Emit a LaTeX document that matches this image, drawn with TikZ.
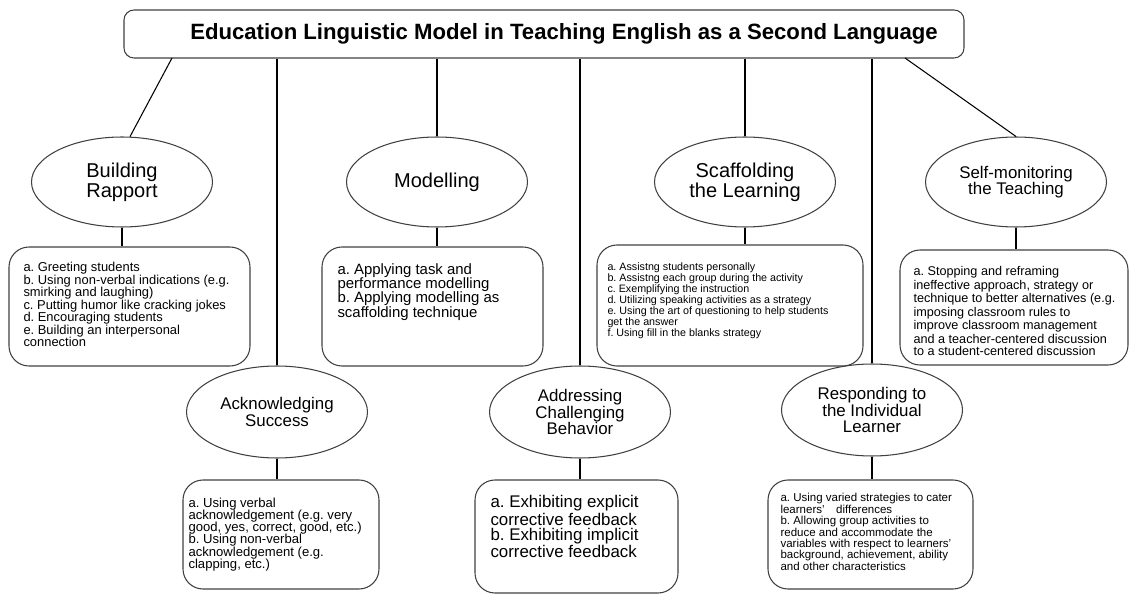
\documentclass[tikz,border=0pt]{standalone}
\usepackage{fontspec}
\setmainfont{Liberation Sans}
\usetikzlibrary{shapes.geometric,fit}
\frenchspacing
\begin{document}
\begin{tikzpicture}[x=0.02cm, y=-0.02cm, line width=0.6pt,
    topic/.style={ellipse, draw=black!75, minimum width=3.62cm, minimum height=1.8cm, align=center, inner sep=1pt},
    card/.style={draw=black!75, rounded corners=0.4cm, inner sep=0pt},
    notes/.style={anchor=north west, inner sep=0pt, align=left}]
    \useasboundingbox (0,0) rectangle (1129,594);
    % title
    \node[draw=black!75, rounded corners=0.2cm, inner sep=0pt, fit={(124,10) (964,58)}] (title) {};
    \node[font=\fontsize{12.6pt}{14pt}\selectfont\bfseries] (head) at (564,34)
        {Education Linguistic Model in Teaching English as a Second Language};
    % topics
    \node[topic, font=\fontsize{11.4pt}{11.4pt}\selectfont] (br) at (122,182) {Building\\Rapport};
    \node[topic, font=\fontsize{11.4pt}{11.4pt}\selectfont] (mo) at (437,182) {Modelling};
    \node[topic, font=\fontsize{11.4pt}{11.4pt}\selectfont] (sc) at (745,182) {Scaffolding\\the Learning};
    \node[topic, font=\fontsize{9.6pt}{9.3pt}\selectfont] (se) at (1016,182) {Self-monitoring\\the Teaching};
    \node[topic, minimum height=1.84cm, font=\fontsize{9.6pt}{9.3pt}\selectfont] (as) at (277,412) {Acknowledging\\Success};
    \node[topic, minimum height=1.84cm, font=\fontsize{9.6pt}{9.3pt}\selectfont] (ad) at (580,412) {Addressing\\Challenging\\Behavior};
    \node[topic, minimum height=1.84cm, font=\fontsize{9.6pt}{9.3pt}\selectfont] (rs) at (872,410) {Responding to\\the Individual\\Learner};
    % detail boxes
    \node[card, fit={(9,247) (250,366)}] (b1) {};
    \node[card, fit={(322,247) (543,366)}] (b2) {};
    \node[card, fit={(597,245) (863,366)}] (b3) {};
    \node[card, fit={(900,250) (1128,365)}] (b4) {};
    \node[card, fit={(183,480) (379,589)}] (b5) {};
    \node[card, fit={(475,480) (678,593)}] (b6) {};
    \node[card, fit={(768,480) (973,589)}] (b7) {};
    \node[notes, font=\fontsize{7.35pt}{7.1pt}\selectfont] (n1) at (23,262)
        {a. Greeting students\\b. Using non-verbal indications (e.g.\\smirking and laughing)\\c. Putting humor like cracking jokes\\d. Encouraging students\\e. Building an interpersonal\\connection};
    \node[notes, font=\fontsize{8.5pt}{8.15pt}\selectfont] (n2) at (337,263)
        {a. Applying task and\\performance modelling\\b. Applying modelling as\\scaffolding technique};
    \node[notes, font=\fontsize{6.1pt}{6.25pt}\selectfont] (n3) at (607,262)
        {a. Assistng students personally\\b. Assistng each group during the activity\\c. Exemplifying the instruction\\d. Utilizing speaking activities as a strategy\\e. Using the art of questioning to help students\\get the answer\\f. Using fill in the blanks strategy};
    \node[notes, font=\fontsize{7.2pt}{6.6pt}\selectfont] (n4) at (913,266)
        {a. Stopping and reframing\\ineffective approach, strategy or\\technique to better alternatives (e.g.\\imposing classroom rules to\\improve classroom management\\and a teacher-centered discussion\\to a student-centered discussion};
    \node[notes, font=\fontsize{7.45pt}{7pt}\selectfont] (n5) at (188,497)
        {a. Using verbal\\acknowledgement (e.g. very\\good, yes, correct, good, etc.)\\b. Using non-verbal\\acknowledgement (e.g.\\clapping, etc.)};
    \node[notes, font=\fontsize{9.6pt}{8.55pt}\selectfont] (n6) at (490,495)
        {a. Exhibiting explicit\\corrective feedback\\b. Exhibiting implicit\\corrective feedback};
    \node[notes, font=\fontsize{6.55pt}{6.5pt}\selectfont] (n7) at (780,493)
        {a. Using varied strategies to cater\\learners'\quad differences\\b. Allowing group activities to\\reduce and accommodate the\\variables with respect to learners'\\background, achievement, ability\\and other characteristics};
    % connectors
    \coordinate (t1) at (172,58);
    \coordinate (t2) at (905,58);
    \draw (t1) -- (br.80);
    \draw (t2) -- (se.north);
    \foreach \n in {as, mo, ad, sc, rs}
        \draw (\n.north) -- (\n.north |- title.south);
    \foreach \e/\b in {br/b1, mo/b2, sc/b3, se/b4, as/b5, ad/b6, rs/b7}
        \draw (\e.south) -- (\e.south |- \b.north);
\end{tikzpicture}
\end{document}
